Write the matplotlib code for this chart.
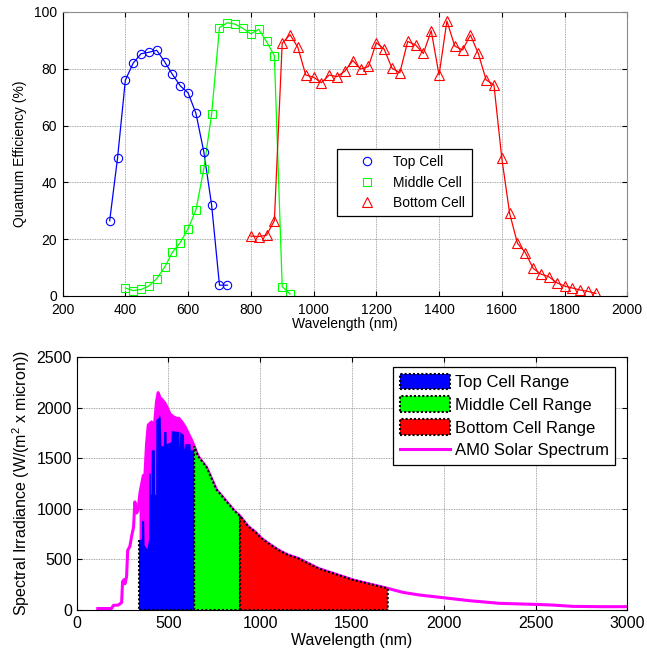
import matplotlib
matplotlib.use('Agg')
import matplotlib.pyplot as plt
import numpy as np
from matplotlib.patches import Patch
from matplotlib.lines import Line2D

plt.rcParams['font.family'] = ['Liberation Sans', 'DejaVu Sans']
plt.rcParams['mathtext.fontset'] = 'custom'
plt.rcParams['mathtext.rm'] = 'Liberation Sans'
plt.rcParams['mathtext.it'] = 'Liberation Sans:italic'

# quantum efficiency (%)
top_nm = [350, 375, 400, 425, 450, 475, 500, 525, 550, 575, 600, 625, 650, 675, 700, 725]
top_qe = [26.5, 48.5, 76, 82, 85.3, 85.8, 86.5, 82.5, 78, 74, 71.5, 64.3, 50.8, 32, 3.8, 3.8]

mid_nm = [400, 425, 450, 475, 500, 525, 550, 575, 600, 625, 650, 675, 700, 725, 750,
          775, 800, 825, 850, 875, 900, 925]
mid_qe = [2.8, 1.9, 2.3, 3.5, 6.1, 10.1, 15.4, 18.8, 23.7, 30.3, 44.7, 64.1, 94.5, 96.2,
          95.7, 94.2, 92.3, 93.9, 89.6, 84.6, 3.3, 0.7]

bot_nm = [800, 825, 850, 875, 900, 925, 950, 975, 1000, 1025, 1050, 1075, 1100, 1125,
          1150, 1175, 1200, 1225, 1250, 1275, 1300, 1325, 1350, 1375, 1400, 1425, 1450,
          1475, 1500, 1525, 1550, 1575, 1600, 1625, 1650, 1675, 1700, 1725, 1750, 1775,
          1800, 1825, 1850, 1875, 1900]
bot_qe = [21.1, 20.9, 21.4, 26.5, 89.0, 92.0, 87.5, 77.8, 77.0, 75.1, 77.8, 77.2, 79.2,
          82.9, 79.9, 80.8, 89.2, 86.9, 80.2, 78.6, 89.6, 88.4, 85.4, 93.4, 77.8, 96.8,
          88.0, 86.6, 91.9, 85.4, 76.1, 74.3, 48.5, 29.1, 18.5, 15.3, 9.7, 7.7, 6.8, 4.7,
          3.5, 2.8, 2.1, 1.6, 0.9]

# AM0 spectrum envelope (W/(m^2 micron))
am0_nm = [115, 190, 200, 228, 245, 250, 258, 263, 272, 278, 290, 299, 310, 317, 327,
          336, 340, 345, 363, 372, 381, 390, 408, 423, 435, 444, 454, 466, 481, 495, 508,
          526, 544, 557, 572, 590, 608, 626, 640, 662, 708, 762, 790, 817, 862, 890,
          935, 971, 1007, 1044, 1098, 1152, 1207, 1261, 1316, 1370, 1425, 1507, 1597,
          1695, 1779, 1870, 1997, 2142, 2305, 2496, 2596, 2705, 2868, 3000]
am0_irr = [15, 15, 45, 50, 75, 280, 300, 260, 330, 590, 630, 725, 820, 1070, 960,
           1000, 1080, 1160, 1330, 1340, 1650, 1830, 1860, 1810, 2060, 2150, 2100, 2080, 2045,
           1995, 1940, 1913, 1896, 1896, 1863, 1814, 1748, 1682, 1620, 1520, 1410, 1190,
           1130, 1071, 975, 930, 825, 775, 709, 660, 594, 544, 511, 462, 412, 379, 346,
           297, 257, 214, 174, 148, 122, 92, 66, 56, 49, 36, 33, 33]

# visible top of the blue (top cell) fill
topfill_nm = [340, 355, 356, 368, 370, 385, 395, 396, 404, 405, 408, 409, 426, 427, 433,
              434, 448, 452, 458, 462, 475, 476, 490, 491, 515, 518, 560, 561, 565, 585,
              586, 592, 620, 622, 640]
topfill_irr = [690, 700, 880, 880, 640, 600, 700, 1350, 1350, 1140, 1140, 1580, 1580,
               1140, 1140, 1880, 1900, 1930, 1900, 1620, 1620, 1760, 1760, 1640, 1660,
               1770, 1760, 1600, 1760, 1730, 1580, 1640, 1640, 1580, 1580]

ranges = [(640, 890), (890, 1695)]
range_colors = ['#00ff00', '#ff0000']
legend_labels = ['Top Cell Range', 'Middle Cell Range', 'Bottom Cell Range', 'AM0 Solar Spectrum']

fig = plt.figure(figsize=(6.47, 6.57), dpi=100)
ax1 = fig.add_axes([0.0968, 0.5495, 0.8727, 0.4323])
ax2 = fig.add_axes([0.1185, 0.0715, 0.851, 0.3847])


def style(ax, fs, xpad):
    ax.grid(True, color='0.55', linestyle=(0, (1, 1)), linewidth=0.6)
    ax.set_axisbelow(True)
    ax.tick_params(direction='in', length=3.5, width=0.8, top=True, right=True,
                   labelsize=fs)
    ax.tick_params(axis='x', pad=xpad)
    for s in ax.spines.values():
        s.set_linewidth(0.8)


# ---- top panel
ax1.plot(top_nm, top_qe, '-', color='#0000ff', lw=0.9)
ax1.plot(mid_nm, mid_qe, '-', color='#00ff00', lw=0.9)
ax1.plot(bot_nm, bot_qe, '-', color='#ff0000', lw=0.9)
ax1.plot(top_nm, top_qe, 'o', mfc='none', mec='#0000ff', ms=6, mew=0.8, label='Top Cell')
ax1.plot(mid_nm, mid_qe, 's', mfc='none', mec='#00ff00', ms=6, mew=0.8, label='Middle Cell')
ax1.plot(bot_nm, bot_qe, '^', mfc='none', mec='#ff0000', ms=7, mew=0.8, label='Bottom Cell')
ax1.set_xlim(200, 2000)
ax1.set_ylim(0, 100)
ax1.set_xticks(range(200, 2001, 200))
ax1.set_yticks(range(0, 101, 20))
style(ax1, 10, 5)
ax1.tick_params(axis='y', pad=4)
ax1.spines['top'].set_color('0.55')
ax1.spines['right'].set_color('0.55')
ax1.set_xlabel('Wavelength (nm)', fontsize=10, labelpad=0)
ax1.set_ylabel('Quantum Efficiency (%)', fontsize=10, labelpad=5)
leg1 = ax1.legend(loc='upper left', bbox_to_anchor=(0.521, 0.7732),
                  bbox_transform=fig.transFigure, borderaxespad=0, fontsize=10,
                  handlelength=3.4, handletextpad=0.2, borderpad=0.45, labelspacing=0.45,
                  fancybox=False, framealpha=1, edgecolor='k')
leg1.get_frame().set_linewidth(0.9)

# ---- bottom panel
nm_arr = np.array(am0_nm)
irr_arr = np.array(am0_irr)
dots = (0, (1, 1))

ax2.plot(am0_nm, am0_irr, '-', color='#ff00ff', lw=2.2, zorder=2)
# dense absorption spikes show as solid magenta above the blue region
m = (nm_arr >= topfill_nm[0]) & (nm_arr <= topfill_nm[-1])
ax2.fill_between(nm_arr[m], 0, irr_arr[m], color='#ff00ff', lw=0, zorder=2)

ax2.fill([topfill_nm[0]] + topfill_nm + [topfill_nm[-1]], [0] + topfill_irr + [0],
         facecolor='#0000ff', edgecolor='none', zorder=3)
ax2.plot([topfill_nm[0], topfill_nm[0], topfill_nm[-1], topfill_nm[-1]],
         [topfill_irr[0], 0, 0, topfill_irr[-1]], color='k', linestyle=dots, lw=1.5, zorder=4)
for (lo, hi), c in zip(ranges, range_colors):
    m = (nm_arr >= lo) & (nm_arr <= hi)
    xs = [lo] + list(nm_arr[m]) + [hi]
    ys = [0] + list(irr_arr[m]) + [0]
    ax2.fill(xs, ys, facecolor=c, edgecolor='k', linestyle=dots, lw=1.5, zorder=3)
ax2.set_xlim(0, 3000)
ax2.set_ylim(0, 2500)
ax2.set_xticks(range(0, 3001, 500))
ax2.set_yticks(range(0, 2501, 500))
style(ax2, 11.5, 4)
ax2.set_xlabel('Wavelength (nm)', fontsize=11.5, labelpad=2)
ax2.set_ylabel('Spectral Irradiance (W/(m$^2$ x micron))', fontsize=11.5, labelpad=3)

handles = [Patch(facecolor=c, edgecolor='k', linestyle=dots, lw=1.5)
           for c in ['#0000ff', '#00ff00', '#ff0000']]
handles.append(Line2D([], [], color='#ff00ff', lw=2.2))
leg2 = ax2.legend(handles, legend_labels, loc='upper left', bbox_to_anchor=(0.6074, 0.4414),
                  bbox_transform=fig.transFigure, borderaxespad=0, fontsize=12,
                  handlelength=3.0, handleheight=1.05, handletextpad=0.3, borderpad=0.4,
                  labelspacing=0.38, fancybox=False, framealpha=1, edgecolor='k')
leg2.get_frame().set_linewidth(0.9)

fig.savefig('out.png', dpi=100)
